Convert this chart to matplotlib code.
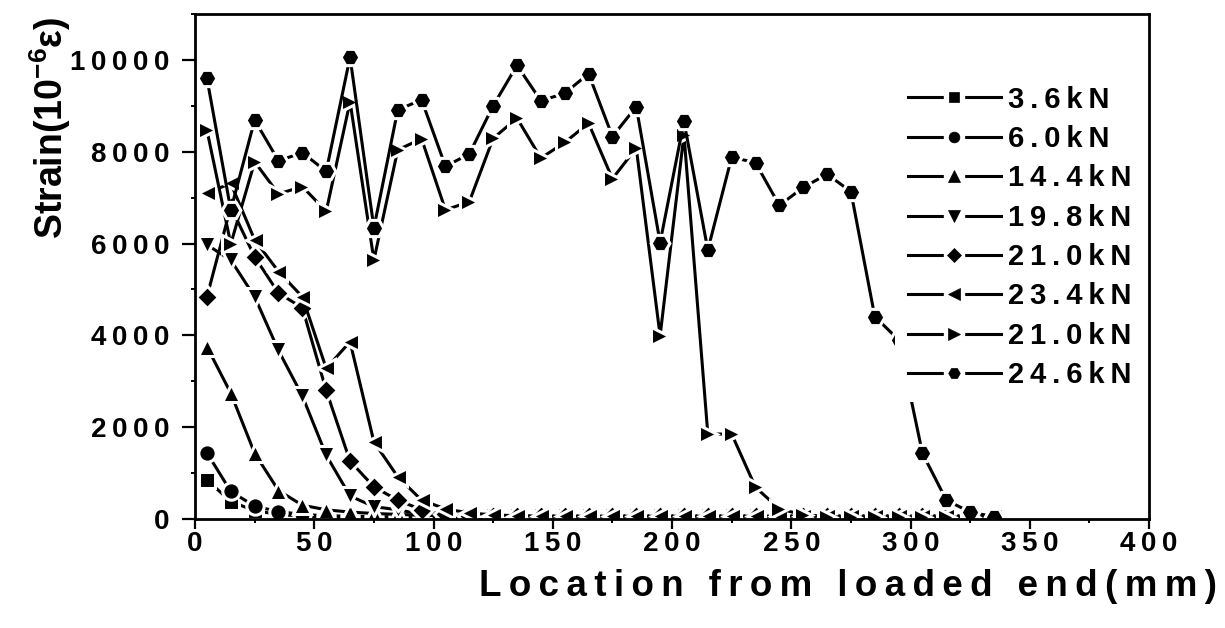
import matplotlib
matplotlib.use("Agg")
from matplotlib import pyplot as plt
from matplotlib.lines import Line2D
from matplotlib.legend_handler import HandlerTuple
from matplotlib.ticker import MultipleLocator, FuncFormatter

plt.rcParams['font.family'] = ['Liberation Sans', 'DejaVu Sans']
plt.rcParams['font.weight'] = 'bold'
plt.rcParams['mathtext.fontset'] = 'custom'
plt.rcParams['mathtext.bf'] = 'Liberation Sans:bold'
plt.rcParams['mathtext.rm'] = 'Liberation Sans:bold'

TS = '\u2009'  # thin space, mimics the wide letter spacing

# location from loaded end (mm)
location = [5, 15, 25, 35, 45, 55, 65, 75, 85, 95,
            105, 115, 125, 135, 145, 155, 165, 175, 185, 195,
            205, 215, 225, 235, 245, 255, 265, 275, 285, 295,
            305, 315, 325, 335]

# strain (10^-6) per load level
s_3_6 = [850, 380, 180, 100, 60, 40, 30, 30, 30, 30,
         30, 30, 30, 30, 30, 30, 30, 30, 30, 30,
         30, 30, 30, 30, 30, 30, 30, 30, 30, 30,
         30, 30, 30, 30]
s_6_0 = [1440, 600, 280, 160, 100, 70, 60, 50, 50, 50,
         50, 50, 50, 50, 50, 50, 50, 50, 50, 50,
         50, 50, 50, 50, 50, 50, 50, 50, 50, 50,
         50, 50, 50, 50]
s_14_4 = [3750, 2740, 1430, 620, 300, 200, 150, 120, 100, 80,
          70, 60, 60, 60, 60, 60, 60, 60, 60, 60,
          60, 60, 60, 60, 60, 60, 60, 60, 60, 60,
          60, 60, 60, 60]
s_19_8 = [5970, 5640, 4840, 3670, 2680, 1390, 500, 270, 200, 100,
          80, 60, 60, 60, 60, 60, 60, 60, 60, 60,
          60, 60, 60, 60, 60, 60, 60, 60, 60, 60,
          60, 60, 60, 60]
s_21_0a = [4840, 6800, 5710, 4920, 4600, 2800, 1260, 700, 410, 200,
           100, 70, 60, 60, 60, 60, 60, 60, 60, 60,
           60, 60, 60, 60, 60, 60, 60, 60, 60, 60,
           60, 60, 60, 60]
s_23_4 = [7100, 7310, 6080, 5390, 4840, 3280, 3860, 1680, 920, 410,
          220, 130, 90, 70, 60, 60, 60, 60, 60, 60,
          60, 60, 60, 60, 60, 60, 60, 60, 60, 60,
          60, 60, 60, 60]
s_21_0b = [8470, 5990, 7780, 7080, 7240, 6700, 9090, 5640, 8040, 8280,
           6730, 6910, 8290, 8730, 7860, 8200, 8620, 7410, 8080, 3990,
           8370, 1850, 1850, 690, 220, 90, 50, 40, 40, 40,
           40, 40, 40, 40]
s_24_6 = [9600, 6730, 8690, 7800, 7980, 7570, 10060, 6340, 8910, 9130,
          7680, 7950, 9000, 9880, 9110, 9270, 9700, 8330, 8980, 6020,
          8660, 5860, 7880, 7760, 6830, 7220, 7510, 7130, 4410, 3900,
          1430, 410, 150, 50]

series = [s_3_6, s_6_0, s_14_4, s_19_8, s_21_0a, s_23_4, s_21_0b, s_24_6]
labels = ['3.6kN', '6.0kN', '14.4kN', '19.8kN', '21.0kN', '23.4kN', '21.0kN', '24.6kN']
markers = ['s', 'o', '^', 'v', 'D', '<', '>', 'H']
msizes = [11.5, 12.5, 13.5, 13.5, 11.5, 13.5, 13.5, 13.5]

fig = plt.figure(figsize=(12.25, 6.28), dpi=100)
ax = fig.add_axes([0.1592, 0.1736, 0.7788, 0.8042])

handles = []
for vals, lab, mk, ms in zip(series, labels, markers, msizes):
    ax.plot(location, vals, color='black', lw=2.2, marker=mk, ms=ms,
            mfc='black', mec='white', mew=2.2)
    # legend handle: line, white halo, small black marker
    line = Line2D([], [], color='black', lw=2.2)
    halo = Line2D([], [], ls='none', marker='s', ms=15, mfc='white', mec='white')
    dot = Line2D([], [], ls='none', marker=mk, ms=ms * 0.62, mfc='black', mec='black', mew=0.5)
    handles.append((line, halo, dot))

ax.set_xlim(0, 400)
ax.set_ylim(0, 11000)
ax.xaxis.set_major_locator(MultipleLocator(50))
ax.xaxis.set_minor_locator(MultipleLocator(25))
ax.yaxis.set_major_locator(MultipleLocator(2000))
ax.yaxis.set_minor_locator(MultipleLocator(1000))
spaced = FuncFormatter(lambda v, p: TS.join(f'{v:.0f}'))
ax.xaxis.set_major_formatter(spaced)
ax.yaxis.set_major_formatter(spaced)

ax.tick_params(axis='both', which='major', direction='out', width=1.6, labelsize=20)
ax.tick_params(axis='x', which='major', length=7.5, pad=1)
ax.tick_params(axis='y', which='major', length=9.5, pad=9)
ax.tick_params(axis='both', which='minor', direction='out', width=1.4, length=3)
for sp in ax.spines.values():
    sp.set_linewidth(2)

ax.set_xlabel(TS.join('Location from loaded end(mm)'), fontsize=26.5, fontweight='bold')
ax.xaxis.set_label_coords(0.684, -0.10)
ax.set_ylabel(r'Strain(10$^{\mathbf{-6}}$ε)', fontsize=27, fontweight='bold')
ax.yaxis.set_label_coords(-0.128, 0.775)

leg = ax.legend(handles, [TS.join(l) for l in labels],
                handler_map={tuple: HandlerTuple(ndivide=1)},
                loc='upper left', bbox_to_anchor=(0.718, 0.913), frameon=True,
                facecolor='white', edgecolor='none', framealpha=1, fancybox=False,
                borderpad=0.45, handlelength=3.2, handletextpad=0.25,
                labelspacing=0.39, prop={'weight': 'bold', 'size': 21})
leg.set_zorder(2.4)

fig.savefig('out.png', dpi=100)
